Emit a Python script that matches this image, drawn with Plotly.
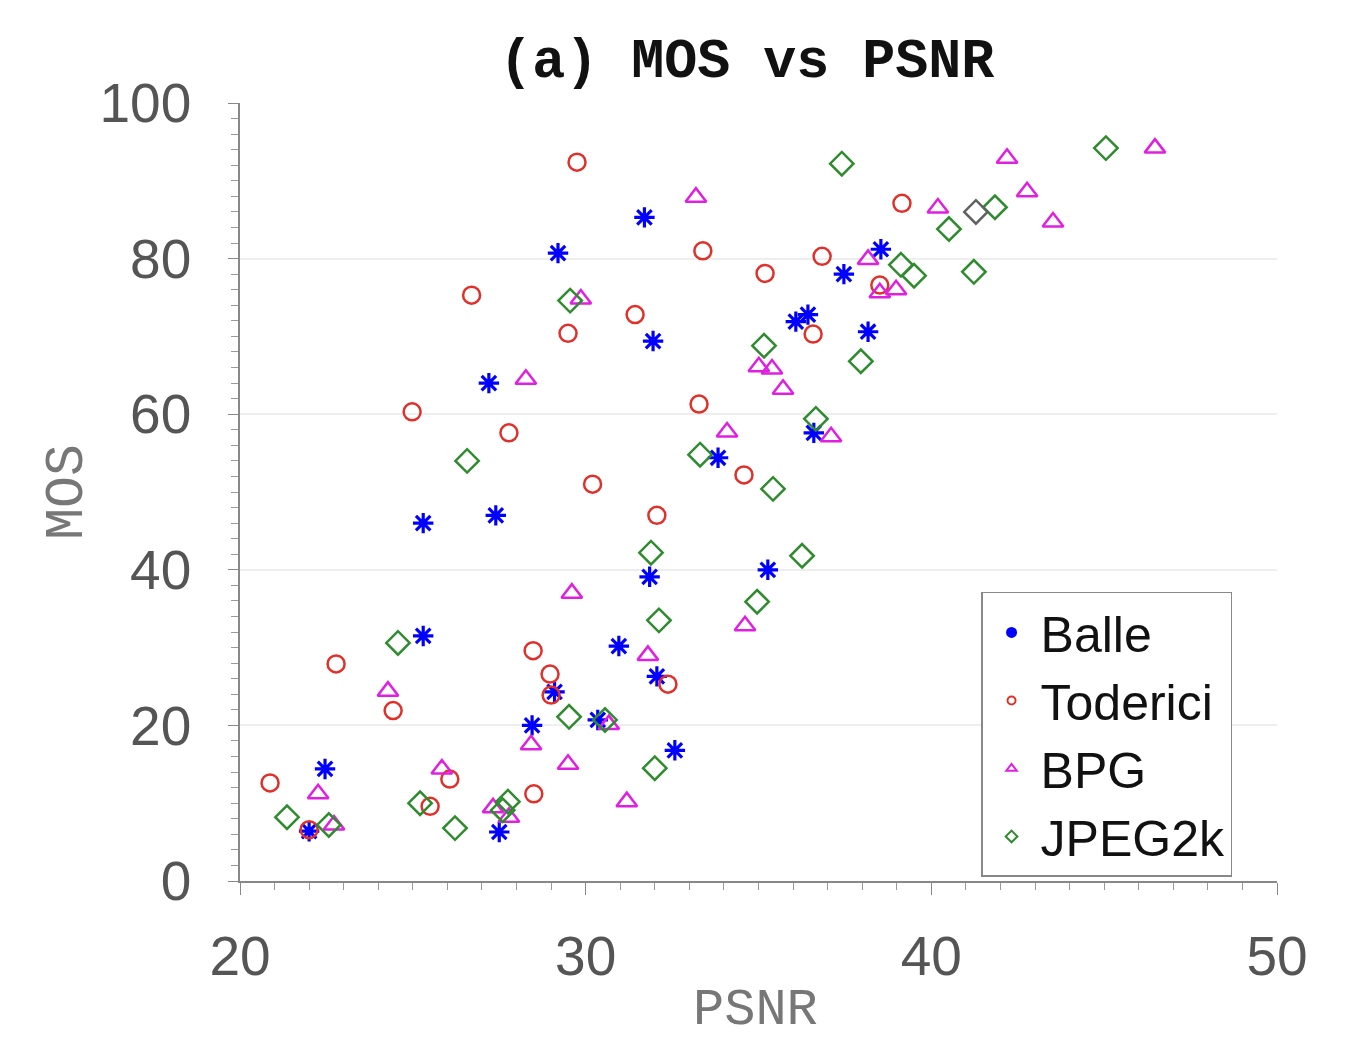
import plotly.graph_objects as go

# Balle
balle_x = [22.46, 22.0, 25.3, 25.3, 27.2, 27.4, 27.5, 28.45, 29.1, 29.2, 30.35, 30.96, 31.7,
           31.85, 31.95, 32.06, 32.58, 33.83, 35.27, 36.08, 36.43, 36.6, 37.47, 38.17, 38.54]
balle_y = [14.4, 6.4, 46.0, 31.5, 64.0, 47.0, 6.3, 20.0, 24.3, 80.7, 20.7, 30.2, 85.3,
           39.1, 69.4, 26.3, 16.8, 54.4, 40.0, 71.9, 72.8, 57.6, 78.0, 70.6, 81.2]

# Toderici
tod_x = [20.87, 22.0, 22.78, 24.43, 24.98, 25.5, 26.07, 26.7, 27.78, 28.48, 28.5, 28.97, 29.0,
         29.49, 29.75, 30.2, 31.43, 32.06, 32.38, 33.28, 33.39, 34.58, 35.19, 36.58, 36.84,
         38.51, 39.15]
tod_y = [12.6, 6.6, 27.9, 21.9, 60.3, 9.6, 13.1, 75.3, 57.6, 29.6, 11.2, 26.6, 23.9,
         70.4, 92.4, 51.0, 72.8, 47.0, 25.3, 61.3, 81.0, 52.2, 78.1, 70.3, 80.3,
         76.6, 87.1]

# BPG
bpg_x = [22.26, 22.72, 24.28, 25.84, 27.32, 27.78, 28.27, 28.42, 29.49, 29.6, 29.86, 30.67,
         31.19, 31.8, 33.19, 34.09, 34.61, 35.01, 35.39, 35.71, 37.1, 38.17, 38.51, 38.98,
         40.19, 42.19, 42.77, 43.52, 46.47]
bpg_y = [11.2, 7.2, 24.4, 14.4, 9.4, 8.2, 64.5, 17.5, 15.0, 37.0, 74.8, 20.1,
         10.2, 29.0, 87.9, 57.7, 32.8, 66.1, 65.8, 63.2, 57.1, 79.9, 75.6, 76.0,
         86.5, 92.9, 88.6, 84.7, 94.2]

# JPEG2k
jp_x = [21.36, 22.57, 24.57, 25.21, 26.22, 26.57, 27.6, 27.75, 29.52, 29.55, 30.56, 31.89,
        32.0, 32.12, 33.31, 34.96, 35.16, 35.42, 36.26, 36.66, 37.41, 37.96, 39.12, 39.5,
        40.51, 41.23, 41.84, 45.05]
jp_y = [8.2, 7.2, 30.6, 10.0, 6.8, 54.0, 9.1, 10.2, 21.1, 74.6, 20.7, 42.2,
        14.5, 33.5, 54.8, 35.9, 68.8, 50.4, 41.8, 59.4, 92.2, 66.8, 79.2, 77.8,
        83.8, 78.3, 86.6, 94.2]

# overlapped point drawn in gray
gray_x = [41.29]
gray_y = [86.0]

x_ticks = [20, 30, 40, 50]
y_ticks = [0, 20, 40, 60, 80, 100]

series = [
    ("Balle", balle_x, balle_y, "asterisk-open", 17, 3.2, "#0000ff", "circle", 9),
    ("Toderici", tod_x, tod_y, "circle-open", 17, 2.5, "#e0302a", "circle-open", 8),
    ("BPG", bpg_x, bpg_y, "triangle-up-open", 18, 2.5, "#e020e0", "triangle-up-open", 9),
    ("JPEG2k", jp_x, jp_y, "diamond-open", 18, 2.5, "#2e8b2e", "diamond-open", 9),
]

fig = go.Figure()
for name, xs, ys, sym, size, lw, col, lsym, lsize in series:
    fig.add_trace(go.Scatter(x=xs, y=ys, mode="markers", name=name, legendgroup=name,
                             showlegend=False,
                             marker=dict(symbol=sym, size=size, color=col,
                                         line=dict(color=col, width=lw))))
fig.add_trace(go.Scatter(x=gray_x, y=gray_y, mode="markers", showlegend=False,
                         marker=dict(symbol="diamond-open", size=18, color="#606060",
                                     line=dict(color="#606060", width=2.5))))
# legend entries (small symbols as in the reference legend)
for name, xs, ys, sym, size, lw, col, lsym, lsize in series:
    fig.add_trace(go.Scatter(x=[None], y=[None], mode="markers", name=name, legendgroup=name,
                             marker=dict(symbol=lsym, size=lsize, color=col,
                                         line=dict(color=col, width=2))))

fig.update_layout(
    width=1368, height=1044,
    paper_bgcolor="white", plot_bgcolor="white",
    margin=dict(l=232, r=99, t=95, b=171),
    title=dict(text="<b>(a) MOS vs PSNR</b>", x=0.540, xanchor="center", y=0.952, yanchor="middle",
               font=dict(family="Liberation Mono", size=55, color="#111111")),
    legend=dict(x=0.7146, y=0.3715, xanchor="left", yanchor="top",
                bgcolor="white", bordercolor="#888888", borderwidth=1.5,
                font=dict(family="Liberation Sans", size=50, color="#111111"),
                itemsizing="trace", itemwidth=48, tracegroupgap=0),
    showlegend=True,
    annotations=[dict(text="PSNR", xref="paper", yref="paper", x=0.497, y=-0.166,
                      xanchor="center", yanchor="middle", showarrow=False,
                      font=dict(family="Liberation Mono", size=52, color="#777777"))],
)
fig.update_xaxes(
    range=[20, 50], tickvals=x_ticks, showgrid=False, zeroline=False, automargin=False,
    showline=True, linecolor="#888888", linewidth=1.5,
    ticks="outside", ticklen=12, tickcolor="#888888", ticklabelstandoff=14,
    minor=dict(dtick=1, ticks="outside", ticklen=7, tickcolor="#999999"),
    tickfont=dict(family="Liberation Sans", size=55, color="#555555"),
)
fig.update_yaxes(
    range=[0, 100], tickvals=y_ticks, showgrid=True, gridcolor="#eeeeee", gridwidth=1.5,
    zeroline=False, showline=True, linecolor="#888888", linewidth=1.5, automargin=False,
    ticks="outside", ticklen=10, tickcolor="#888888", ticklabelstandoff=26,
    minor=dict(dtick=2, ticks="outside", ticklen=7, tickcolor="#999999", showgrid=False),
    tickfont=dict(family="Liberation Sans", size=55, color="#555555"),
    title=dict(text="MOS", font=dict(family="Liberation Mono", size=53, color="#777777"), standoff=0),
)

fig.write_html("out.html")
